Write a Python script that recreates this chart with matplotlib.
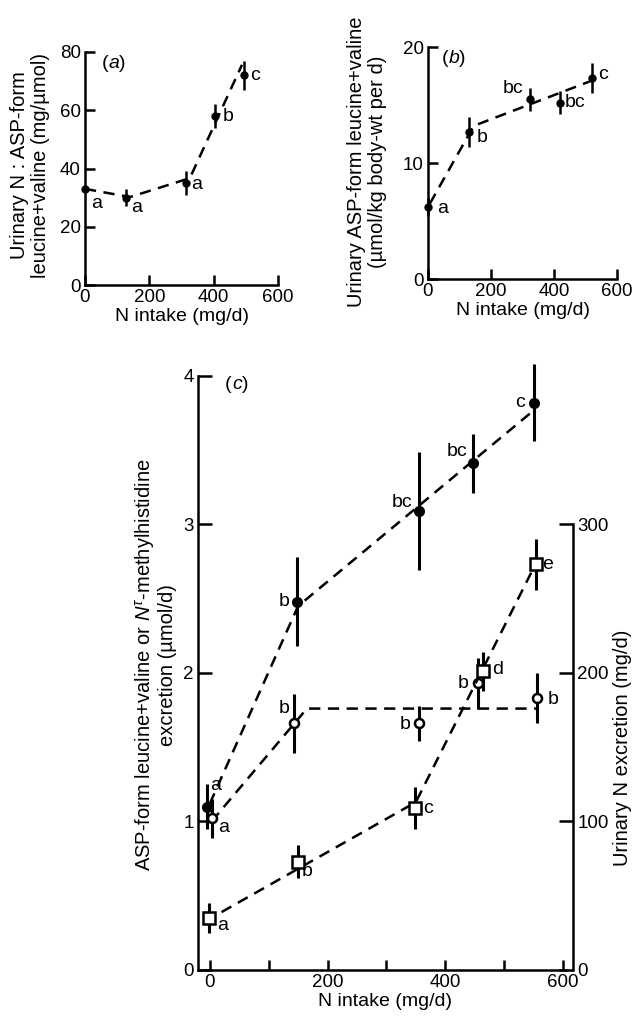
import matplotlib
matplotlib.use("Agg")
import matplotlib.pyplot as plt

plt.rcParams['font.family'] = ['Liberation Sans', 'DejaVu Sans']
plt.rcParams['mathtext.fontset'] = 'custom'
plt.rcParams['mathtext.rm'] = 'Liberation Sans'
plt.rcParams['mathtext.it'] = 'Liberation Sans:italic'

# ---------------- data ----------------
# panel (a)
a_x = [0, 127, 313, 403, 493]
a_y = [33, 30, 35, 58, 72]
a_err = [1.0, 3, 4, 4, 5]
a_lab = ['a', 'a', 'a', 'b', 'c']
a_lab_x = [37, 161, 348, 445, 528]
a_lab_y = [28, 26.5, 34.4, 58, 72]
a_fit_x = [0, 140, 326, 488]
a_fit_y = [33, 30.2, 36.7, 75.6]

# panel (b)
b_x = [0, 131, 325, 419, 520]
b_y = [6.2, 12.7, 15.5, 15.2, 17.3]
b_err = [0.8, 1.3, 1.0, 1.0, 1.3]
b_lab = ['a', 'b', 'bc', 'bc', 'c']
b_lab_x = [45, 173, 271, 466, 555]
b_lab_y = [6.1, 12.2, 16.4, 15.2, 17.6]
b_fit_x = [6, 145, 520]
b_fit_y = [6.5, 13.2, 17.1]

# panel (c) - ASP-form leucine+valine (filled circles, left axis)
c1_x = [-5, 148, 355, 447, 551]
c1_y = [1.10, 2.48, 3.09, 3.41, 3.82]
c1_err = [0.15, 0.30, 0.40, 0.20, 0.26]
c1_lab = ['a', 'b', 'bc', 'bc', 'c']
c1_lab_x = [10, 127, 326, 420, 527]
c1_lab_y = [1.24, 2.48, 3.15, 3.49, 3.82]
c1_fit_x = [0, 150, 551]
c1_fit_y = [1.12, 2.45, 3.77]

# panel (c) - N-tau-methylhistidine (open circles, left axis)
c2_x = [3, 143, 355, 455, 556]
c2_y = [1.02, 1.66, 1.66, 1.93, 1.83]
c2_err = [0.13, 0.20, 0.12, 0.17, 0.17]
c2_lab = ['a', 'b', 'b', 'b', 'b']
c2_lab_x = [24, 127, 331, 430, 583]
c2_lab_y = [0.96, 1.76, 1.65, 1.93, 1.82]
c2_fit_x = [3, 165, 556]
c2_fit_y = [1.0, 1.76, 1.76]

# panel (c) - urinary N excretion (open squares, right axis, mg/d)
c3_x = [-2, 150, 349, 464, 554]
c3_y = [35, 73, 109, 201, 273]
c3_err = [10, 11, 14, 13, 17]
c3_lab = ['a', 'b', 'c', 'd', 'e']
c3_lab_x = [22, 166, 370, 489, 574]
c3_lab_y = [30, 66, 109, 202, 273]
c3_fit_x = [20, 350, 553]
c3_fit_y = [39, 113, 273]

W, H = 633, 1018
fig = plt.figure(figsize=(W / 100, H / 100), dpi=100)

TICK_FS = 13.5
XLAB_FS = 14
YLAB_FS = 14.5
ANN_FS = 14
LW = 1.8
DASH = (0, (4.5, 3))


def style_axes(ax):
    for s in ['top', 'right']:
        ax.spines[s].set_visible(False)
    for s in ['left', 'bottom']:
        ax.spines[s].set_linewidth(LW)
    ax.tick_params(direction='in', length=7, width=LW, labelsize=TICK_FS, pad=3)


def fax(l, r, t, b):
    return fig.add_axes([l / W, 1 - b / H, (r - l) / W, (b - t) / H])


# ---------------- panel (a) ----------------
axa = fax(85, 278, 52, 285)
style_axes(axa)
axa.set_xlim(0, 600)
axa.set_ylim(0, 80)
axa.set_xticks([0, 200, 400, 600])
axa.set_yticks([0, 20, 40, 60, 80])
axa.plot(a_fit_x, a_fit_y, color='black', lw=LW, linestyle=DASH)
axa.errorbar(a_x, a_y, yerr=a_err, fmt='o', color='black', ms=5,
             elinewidth=LW, capsize=0, clip_on=False)
for t, x, y in zip(a_lab, a_lab_x, a_lab_y):
    axa.text(x, y, t, fontsize=ANN_FS, ha='center', va='center')
axa.text(72, 76, '(', fontsize=ANN_FS, ha='right', va='center')
axa.text(72, 76, r'$\mathit{a}$)', fontsize=ANN_FS, ha='left', va='center')
axa.set_xlabel('N intake (mg/d)', fontsize=XLAB_FS, labelpad=1)
fig.text(30 / W, 1 - 165 / H, 'Urinary N : ASP-form\nleucine+valine (mg/\u00b5mol)',
         rotation=90, ha='center', va='center', fontsize=YLAB_FS,
         multialignment='center', linespacing=1.1)

# ---------------- panel (b) ----------------
axb = fax(428, 617, 47, 279)
style_axes(axb)
axb.set_xlim(0, 600)
axb.set_ylim(0, 20)
axb.set_xticks([0, 200, 400, 600])
axb.set_yticks([0, 10, 20])
axb.plot(b_fit_x, b_fit_y, color='black', lw=LW, linestyle=DASH)
axb.errorbar(b_x, b_y, yerr=b_err, fmt='o', color='black', ms=5,
             elinewidth=LW, capsize=0, clip_on=False)
for t, x, y in zip(b_lab, b_lab_x, b_lab_y):
    axb.text(x, y, t, fontsize=ANN_FS, ha='center', va='center')
axb.text(64, 19, '(', fontsize=ANN_FS, ha='right', va='center')
axb.text(64, 19, r'$\mathit{b}$)', fontsize=ANN_FS, ha='left', va='center')
axb.set_xlabel('N intake (mg/d)', fontsize=XLAB_FS, labelpad=1)
fig.text(367 / W, 1 - 162 / H,
         'Urinary ASP-form leucine+valine\n(\u00b5mol/kg body-wt per d)',
         rotation=90, ha='center', va='center', fontsize=YLAB_FS,
         multialignment='center', linespacing=1.1)

# ---------------- panel (c) ----------------
axc = fax(198, 573, 361, 970)
style_axes(axc)
axc.set_xlim(-20, 617)
axc.set_ylim(0, 4.1)
axc.spines['left'].set_bounds(0, 4)
axc.spines['bottom'].set_bounds(-20, 605)
axc.set_xticks([0, 200, 400, 600])
axc.set_xticks([100, 300, 500], minor=True)
axc.tick_params(axis='x', which='minor', direction='in', length=7, width=LW)
axc.set_yticks([0, 1, 2, 3, 4])
axc.tick_params(axis='y', length=10)

axr = axc.twinx()
axr.set_ylim(0, 410)
for s in ['top', 'left', 'bottom']:
    axr.spines[s].set_visible(False)
axr.spines['right'].set_linewidth(LW)
axr.spines['right'].set_bounds(0, 300)
axr.set_yticks([0, 100, 200, 300])
axr.tick_params(direction='in', length=10, width=LW, labelsize=TICK_FS, pad=3)

axc.plot(c1_fit_x, c1_fit_y, color='black', lw=LW, linestyle=DASH)
axc.plot(c2_fit_x, c2_fit_y, color='black', lw=LW, linestyle=DASH)
axr.plot(c3_fit_x, c3_fit_y, color='black', lw=LW, linestyle=DASH)

axc.errorbar(c1_x, c1_y, yerr=c1_err, fmt='o', color='black', ms=7,
             elinewidth=2.2, capsize=0, clip_on=False, zorder=5)
axc.errorbar(c2_x, c2_y, yerr=c2_err, fmt='o', color='black', ms=6.5,
             mfc='white', mec='black', mew=1.8,
             elinewidth=2.2, capsize=0, clip_on=False, zorder=5)
axr.errorbar(c3_x, c3_y, yerr=c3_err, fmt='s', color='black', ms=8,
             mfc='white', mec='black', mew=1.8,
             elinewidth=2.2, capsize=0, clip_on=False, zorder=5)

for t, x, y in zip(c1_lab, c1_lab_x, c1_lab_y):
    axc.text(x, y, t, fontsize=ANN_FS, ha='center', va='center')
for t, x, y in zip(c2_lab, c2_lab_x, c2_lab_y):
    axc.text(x, y, t, fontsize=ANN_FS, ha='center', va='center')
for t, x, y in zip(c3_lab, c3_lab_x, c3_lab_y):
    axr.text(x, y, t, fontsize=ANN_FS, ha='center', va='center')
axc.text(37, 3.94, '(', fontsize=ANN_FS, ha='right', va='center')
axc.text(37, 3.94, r'$\mathit{c}$)', fontsize=ANN_FS, ha='left', va='center')

axc.set_xlabel('N intake (mg/d)', fontsize=XLAB_FS, labelpad=1)
fig.text(155 / W, 1 - 665 / H,
         'ASP-form leucine+valine or $\\mathit{N}^{\\tau}$-methylhistidine\nexcretion (\u00b5mol/d)',
         rotation=90, ha='center', va='center', fontsize=YLAB_FS,
         multialignment='center', linespacing=1.1)
fig.text(632 / W, 1 - 748 / H, 'Urinary N excretion (mg/d)',
         rotation=90, ha='right', va='center', fontsize=YLAB_FS)

fig.savefig('out.png', dpi=100)
